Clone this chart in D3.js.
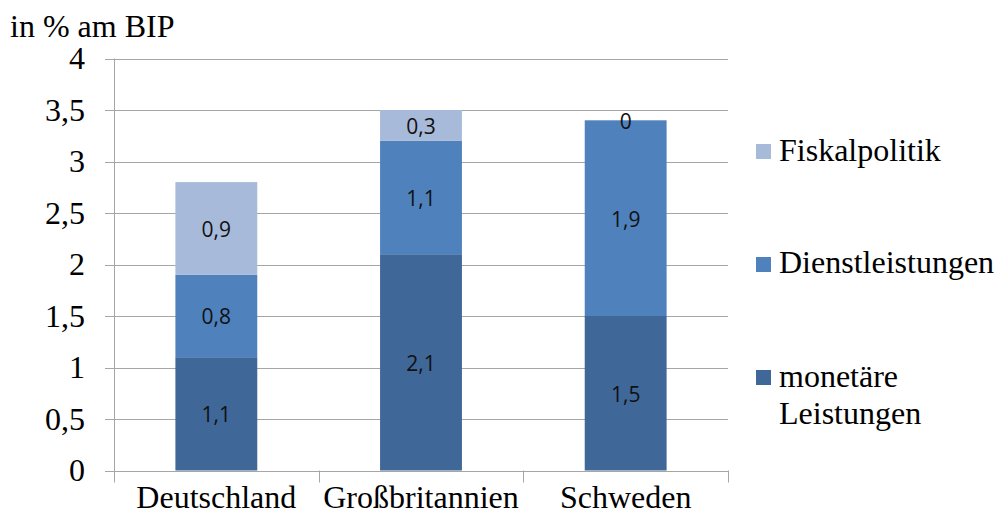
<!DOCTYPE html>
<html><head><meta charset="utf-8">
<script src="https://cdn.jsdelivr.net/npm/d3@7"></script>
<style>body{margin:0;background:#fff}svg{display:block}</style>
</head><body><svg id="c" width="997" height="520"></svg>
<script>
const categories = ["Deutschland","Großbritannien","Schweden"];
const seriesNames = ["monetäre Leistungen","Dienstleistungen","Fiskalpolitik"];
const monetaere = [1.1, 2.1, 1.5];
const dienst = [0.8, 1.1, 1.9];
const fiskal = [0.9, 0.3, 0];
const yTicks = [0,0.5,1,1.5,2,2.5,3,3.5,4];
const colors = ["#3F6798","#4F81BD","#A8BAD9"];

(function(){
const svg = d3.select("#c");
const pLeft = 114, pRight = 728, pTop = 58.5, pBottom = 470.5;
const x = d3.scaleBand().domain(categories).range([pLeft,pRight]).paddingInner(0.6).paddingOuter(0.3);
const y = d3.scaleLinear().domain([0,4]).range([pBottom,pTop]);
const serif = "'Liberation Serif'";
const sans = "'Open Sans'";
const FS = "32px";

svg.append("g").selectAll("line").data(yTicks).join("line")
  .attr("x1",pLeft-9).attr("x2",pRight).attr("y1",d=>Math.round(y(d))+0.5).attr("y2",d=>Math.round(y(d))+0.5)
  .attr("stroke","#A6A6A6").attr("stroke-width",1);
svg.append("line").attr("x1",pLeft+0.5).attr("x2",pLeft+0.5).attr("y1",y(4)).attr("y2",pBottom+12)
  .attr("stroke","#A6A6A6");
const step = x.step();
const bounds = categories.map(c=>x(c)-step*x.paddingInner()/2).slice(1).concat([pRight]);
svg.append("g").selectAll("line").data(bounds).join("line")
  .attr("x1",d=>Math.round(d)+0.5).attr("x2",d=>Math.round(d)+0.5).attr("y1",pBottom).attr("y2",pBottom+12)
  .attr("stroke","#A6A6A6");
const fmt = d=>String(d).replace(".",",");
svg.append("g").selectAll("text").data(yTicks).join("text")
  .attr("x",85).attr("y",d=>y(d)).attr("dy","0.33em").attr("text-anchor","end")
  .style("font-family",serif).style("font-size",FS).attr("fill","#000").text(fmt);

const rows = categories.map((c,i)=>({cat:c, a:monetaere[i], b:dienst[i], c:fiskal[i]}));
const stack = d3.stack().keys(["a","b","c"])(rows);
stack.forEach((layer,li)=>{
  svg.append("g").selectAll("rect").data(layer).join("rect")
    .attr("x",d=>x(d.data.cat)).attr("width",x.bandwidth())
    .attr("y",d=>y(d[1])).attr("height",d=>y(d[0])-y(d[1]))
    .attr("fill",colors[li]);
});
stack.forEach((layer,li)=>{
  svg.append("g").selectAll("text").data(layer).join("text")
    .attr("x",d=>x(d.data.cat)+x.bandwidth()/2)
    .attr("y",d=>(y(d[0])+y(d[1]))/2+1)
    .attr("dy","0.35em").attr("text-anchor","middle")
    .style("font-family",sans).style("font-size","21px").attr("fill","#111")
    .text(d=>fmt(+(d[1]-d[0]).toFixed(1)));
});

svg.append("g").selectAll("text").data(categories).join("text")
  .attr("x",d=>x(d)+x.bandwidth()/2).attr("y",508).attr("text-anchor","middle")
  .style("font-family",serif).style("font-size",FS).attr("fill","#000").text(d=>d);

svg.append("text").attr("x",10).attr("y",37).style("font-family",serif).style("font-size",FS)
  .attr("fill","#000").text("in % am BIP");

const legend = [
  {name:["Fiskalpolitik"], color:colors[2], sq:144, base:161},
  {name:["Dienstleistungen"], color:colors[1], sq:257, base:273},
  {name:["monetäre","Leistungen"], color:colors[0], sq:370, base:387}
];
const lg = svg.append("g");
legend.forEach(l=>{
  lg.append("rect").attr("x",756).attr("y",l.sq).attr("width",15).attr("height",15).attr("fill",l.color);
  const t = lg.append("text").attr("x",779).attr("y",l.base).style("font-family",serif).style("font-size",FS).attr("fill","#000");
  l.name.forEach((n,i)=>t.append("tspan").attr("x",779).attr("dy",i?36.5:0).text(n));
});
})();
</script></body></html>
